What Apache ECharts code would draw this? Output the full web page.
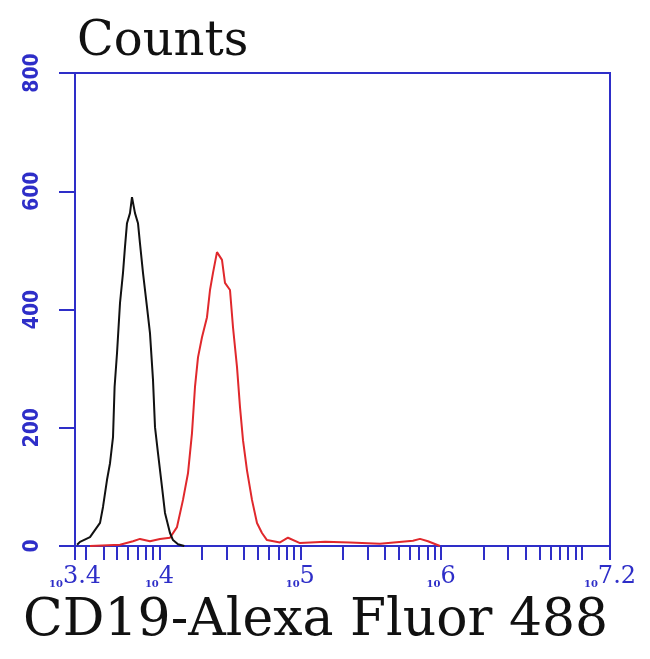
<!DOCTYPE html>
<html>
<head>
<meta charset="utf-8">
<script src="https://cdn.jsdelivr.net/npm/echarts@6/dist/echarts.min.js"></script>
<style>
html,body{margin:0;padding:0;background:#fff;}
#chart{width:650px;height:659px;}
</style>
</head>
<body>
<div id="chart"></div>
<script>
// Fluorescence intensity (linear units) and counts
const controlX = [2600, 2726, 3210, 3782, 3971, 4240, 4453, 4677, 4800, 4993, 5244, 5507, 5689, 5879, 6174, 6380, 6700, 7037, 7270, 7638, 8155, 8562, 8995, 9295, 9761, 10420, 10945, 11877, 12474, 13540, 15000];
const controlY = [2, 7, 15, 39, 66, 112, 140, 184, 269, 326, 411, 462, 506, 546, 563, 590, 563, 546, 512, 462, 404, 360, 281, 201, 157, 100, 56, 22, 10, 3, 0];

const cd19X = [3210, 5244, 6486, 7270, 8562, 10085, 11877, 13317, 14689, 15941, 17020, 17877, 18777, 20045, 21757, 22853, 23997, 25617, 27797, 29196, 31689, 33283, 35530, 37321, 39197, 41837, 45403, 49277, 53470, 58011, 71779, 81800, 99540, 150500, 225500, 368300, 631900, 708700, 807400, 982500];
const cd19Y = [0, 2, 8, 12, 8, 12, 14, 32, 78, 123, 191, 269, 319, 353, 387, 433, 462, 497, 484, 445, 433, 370, 303, 235, 179, 128, 78, 39, 22, 10, 6, 14, 5, 7, 6, 4, 9, 12, 8, 0];

const yTicks = [0, 200, 400, 600, 800];
const xLabelValues = [2512, 1e4, 1e5, 1e6, 15848900];
const xMin = 2511.886, xMax = 15848932;
const xTickValues = [2512, 3000, 4000, 5000, 6000, 7000, 8000, 9000,
  1e4, 2e4, 3e4, 4e4, 5e4, 6e4, 7e4, 8e4, 9e4,
  1e5, 2e5, 3e5, 4e5, 5e5, 6e5, 7e5, 8e5, 9e5,
  1e6, 2e6, 3e6, 4e6, 5e6, 6e6, 7e6, 8e6, 9e6,
  1e7, 15848900];

const BLUE = '#2e2ec8';
const zip = (xs, ys) => xs.map((x, i) => [x, ys[i]]);

const chart = echarts.init(document.getElementById('chart'), null, {renderer: 'canvas'});
chart.setOption({
  backgroundColor: '#ffffff',
  animation: false,
  title: [
    {text: 'Counts', left: 77, top: 19, padding: 0,
     textStyle: {fontFamily: 'DejaVu Serif', fontSize: 48, fontWeight: 'normal', color: '#111'}},
    {text: 'CD19-Alexa Fluor 488', left: 23, top: 595, padding: 0,
     textStyle: {fontFamily: 'DejaVu Serif', fontSize: 52, fontWeight: 'normal', color: '#111'}}
  ],
  grid: {left: 75, right: 40, top: 73, bottom: 113, show: true, borderColor: BLUE, borderWidth: 2, backgroundColor: 'transparent'},
  xAxis: {
    type: 'log', logBase: 10, min: xMin, max: xMax,
    axisLine: {show: true, lineStyle: {color: BLUE, width: 2}},
    axisTick: {show: true, inside: false, length: 14, lineStyle: {color: BLUE, width: 2}, customValues: xTickValues},
    splitLine: {show: false},
    minorTick: {show: false},
    axisLabel: {
      customValues: xLabelValues,
      margin: 19,
      showMinLabel: true, showMaxLabel: true,
      formatter: function (v) {
        let e = Math.round(Math.log10(v) * 10) / 10;
        let s = (Math.abs(e - Math.round(e)) < 1e-6) ? String(Math.round(e)) : e.toFixed(1);
        return '{b|10}{e|' + s + '}';
      },
      rich: {
        b: {fontFamily: 'DejaVu Serif', fontSize: 10, fontWeight: 'bold', color: BLUE, verticalAlign: 'bottom'},
        e: {fontFamily: 'DejaVu Serif', fontSize: 24, color: BLUE, verticalAlign: 'bottom'}
      }
    }
  },
  yAxis: {
    type: 'value', min: 0, max: 800, interval: 200,
    axisLine: {show: true, lineStyle: {color: BLUE, width: 2}},
    axisTick: {show: true, inside: false, length: 16, lineStyle: {color: BLUE, width: 2}},
    splitLine: {show: false},
    axisLabel: {
      rotate: 90, margin: 32, color: BLUE,
      fontFamily: '"Liberation Sans Narrow", "DejaVu Sans Condensed", sans-serif',
      fontSize: 21, fontWeight: 'bold',
      customValues: yTicks
    }
  },
  series: [
    {type: 'line', data: zip(cd19X, cd19Y), symbol: 'none', lineStyle: {color: '#e0282c', width: 2}, z: 3},
    {type: 'line', data: zip(controlX, controlY), symbol: 'none', lineStyle: {color: '#111111', width: 2}, z: 4}
  ]
});
</script>
</body>
</html>
